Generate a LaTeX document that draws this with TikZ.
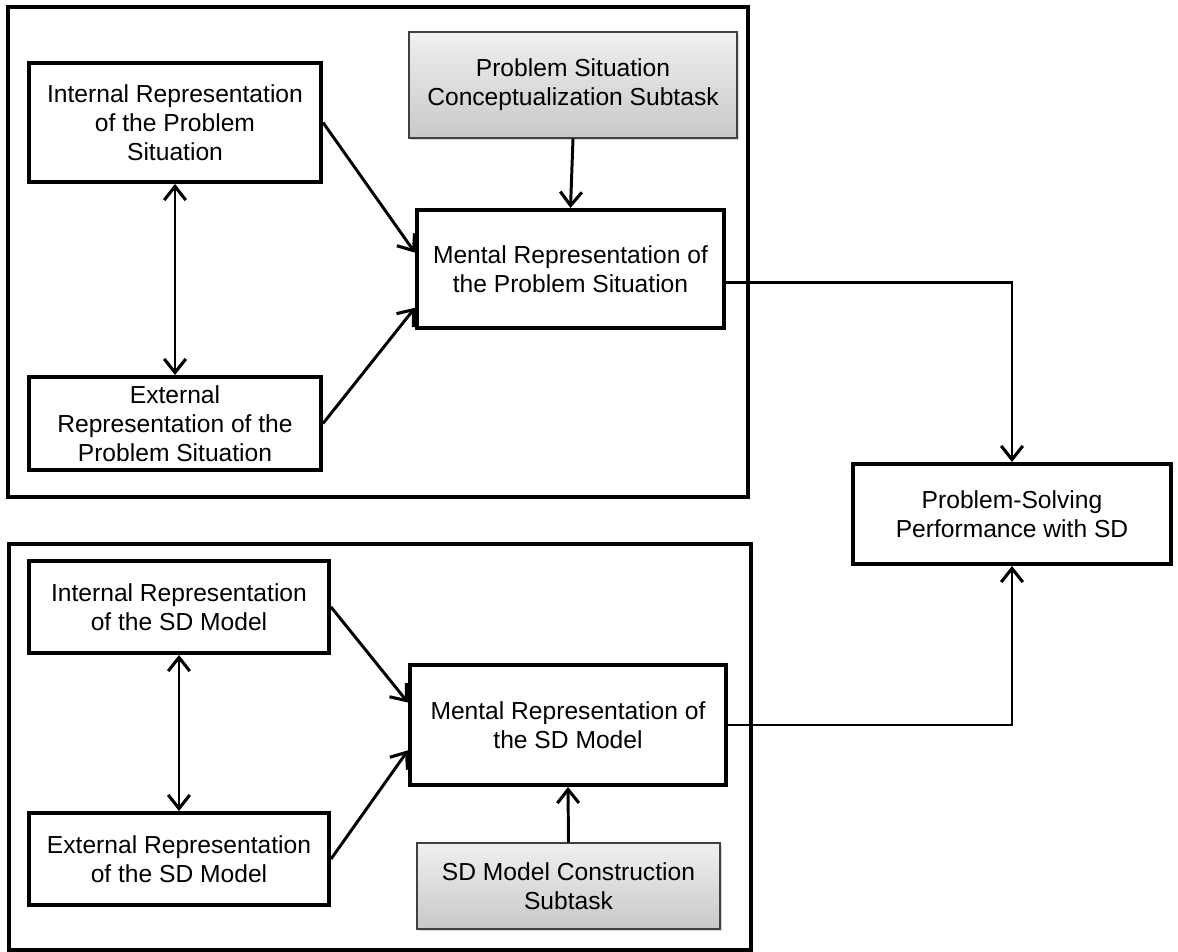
\documentclass[tikz,border=0pt]{standalone}
\usepackage{fontspec}
\setmainfont{Liberation Sans}
\usetikzlibrary{positioning,arrows.meta,shadows}

\begin{document}
\begin{tikzpicture}[
        x=0.025cm, y=-0.025cm,
        barb/.tip={Straight Barb[length=3.4mm,width=5.4mm,line width=2.2pt]},
        R/.style={rectangle, draw=black, line width=2.8pt, fill=white, align=center, inner sep=0pt,
                  font=\fontsize{17.5}{20.6}\selectfont},
        S/.style={R, line width=1pt, draw=black!75, top color=gray!12, bottom color=gray!43,
                  drop shadow={shadow xshift=1.2pt, shadow yshift=-1.5pt, opacity=0.3}},
        frame/.style={draw=black, line width=2.7pt},
        link/.style={line width=2.1pt, -barb},
        both/.style={line width=2.1pt, barb-barb}
    ]
    \useasboundingbox (0,0) rectangle (1178,952);

    \draw[frame] (8,7) rectangle (748,497);
    \draw[frame] (9,544) rectangle (751,950);

    \node[R, minimum width=7.3cm, minimum height=2.975cm]   (ips) at (175,122.5) {Internal Representation\\of the Problem\\Situation};
    \node[R, minimum width=7.3cm, minimum height=2.325cm]   (eps) at (175,423.5) {External\\Representation of the\\Problem Situation};
    \node[S, minimum width=8.2cm, minimum height=2.65cm]    (cps) at (573,85)    {Problem Situation\\Conceptualization Subtask};
    \node[R, minimum width=7.675cm, minimum height=2.95cm]  (mps) at (570.5,269) {Mental Representation of\\the Problem Situation};

    \node[R, minimum width=7.95cm, minimum height=2.5cm]    (psp) at (1012,514)  {Problem-Solving\\Performance with SD};

    \node[R, minimum width=7.5cm, minimum height=2.3cm]     (ism) at (179,607)   {Internal Representation\\of the SD Model};
    \node[R, minimum width=7.5cm, minimum height=2.3cm]     (esm) at (179,859)   {External Representation\\of the SD Model};
    \node[R, minimum width=7.9cm, minimum height=3cm]       (msm) at (568,725)   {Mental Representation of\\the SD Model};
    \node[S, minimum width=7.575cm, minimum height=2.15cm]  (csm) at (568.5,886) {SD Model Construction\\Subtask};

    \draw[link] (ips.east) -- (mps.174);
    \draw[link] (eps.east) -- (mps.194);
    \draw[both] (ips.south) -- (eps.north);
    \draw[link] (cps.south) -- (mps.north);
    \draw[link] (mps.-5) -| (psp.north);

    \draw[link] (ism.east) -- (msm.172);
    \draw[link] (esm.east) -- (msm.189);
    \draw[both] (ism.south) -- (esm.north);
    \draw[link] (csm.north) -- (msm.south);
    \draw[link] (msm.east) -| (psp.south);
\end{tikzpicture}
\end{document}
